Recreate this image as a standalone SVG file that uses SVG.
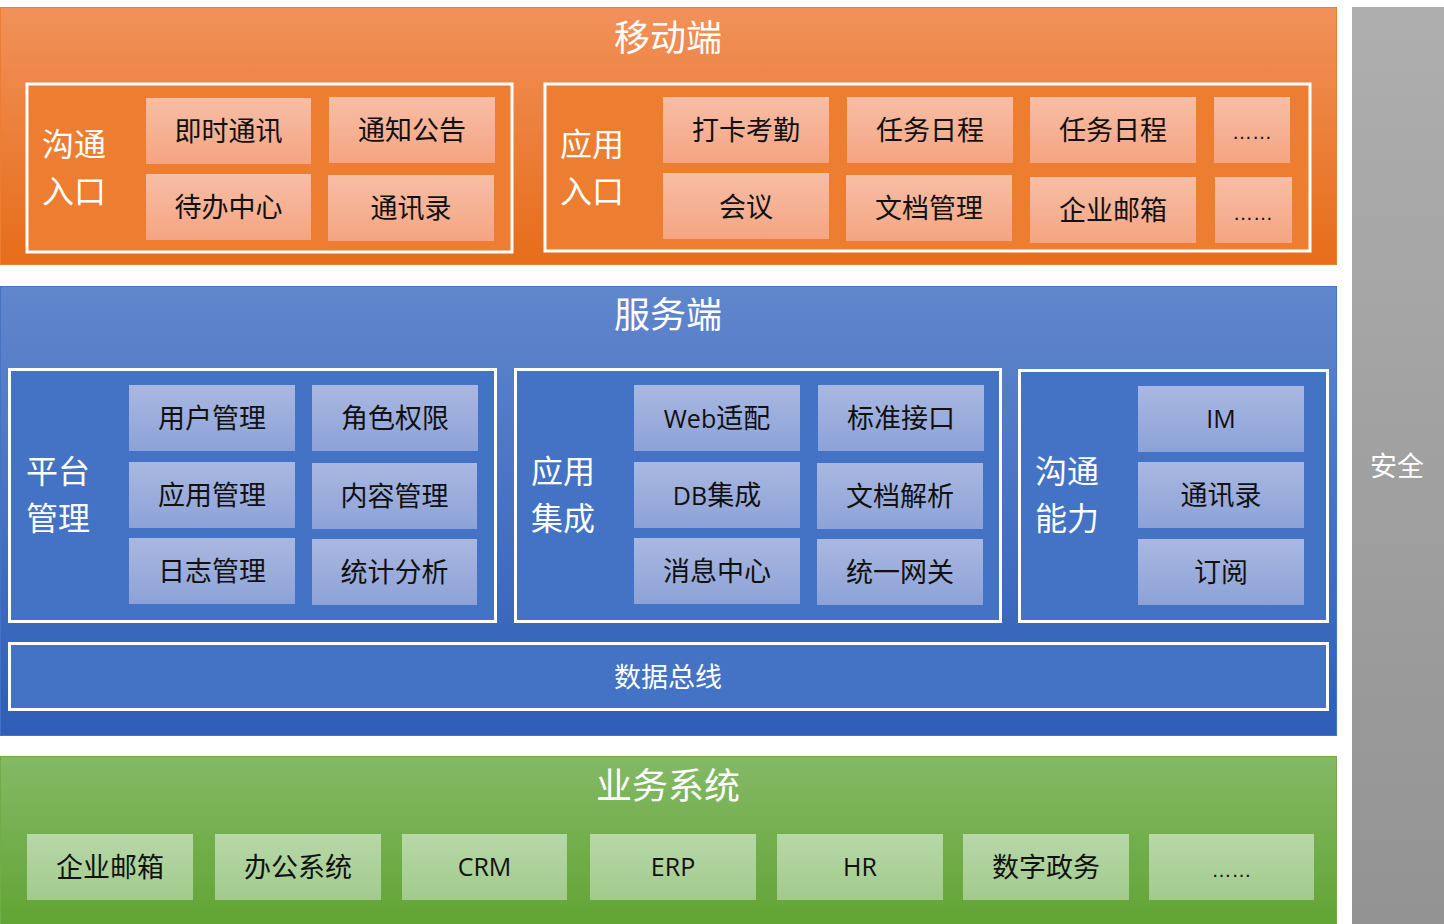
<svg xmlns="http://www.w3.org/2000/svg" width="1444" height="924" viewBox="0 0 1444 924">
<defs>
<linearGradient id="gOr" x1="0" y1="0" x2="0" y2="1"><stop offset="0" stop-color="#f1915a"/><stop offset="1" stop-color="#e66d1a"/></linearGradient>
<linearGradient id="gBl" x1="0" y1="0" x2="0" y2="1"><stop offset="0" stop-color="#6086cc"/><stop offset="1" stop-color="#2e5eb6"/></linearGradient>
<linearGradient id="gGr" x1="0" y1="0" x2="0" y2="1"><stop offset="0" stop-color="#84b966"/><stop offset="1" stop-color="#62a434"/></linearGradient>
<linearGradient id="gGy" x1="0" y1="0" x2="0" y2="1"><stop offset="0" stop-color="#aeaeae"/><stop offset="1" stop-color="#939393"/></linearGradient>
<linearGradient id="cOr" x1="0" y1="0" x2="0" y2="1"><stop offset="0" stop-color="#f7bea6"/><stop offset="1" stop-color="#f5a482"/></linearGradient>
<linearGradient id="cBl" x1="0" y1="0" x2="0" y2="1"><stop offset="0" stop-color="#aab8e1"/><stop offset="1" stop-color="#8ca2d7"/></linearGradient>
<linearGradient id="cGr" x1="0" y1="0" x2="0" y2="1"><stop offset="0" stop-color="#b7d8a9"/><stop offset="1" stop-color="#a2ca8c"/></linearGradient>
</defs>
<style>
text{font-family:"Noto Sans CJK SC","Liberation Sans",sans-serif;}
.title{fill:#fff;font-size:36px;text-anchor:middle;}
.side{fill:#fff;font-size:32px;}
.cell{fill:#111;font-size:27px;text-anchor:middle;}
.lat{font-family:"Open Sans","Liberation Sans","Noto Sans CJK SC",sans-serif;font-size:25px;}
.dots{font-family:"Liberation Sans",sans-serif;font-size:20px;}
.box{stroke:#fff;stroke-width:3;}
.co{fill:url(#cOr);}
.cb{fill:url(#cBl);}
.cg{fill:url(#cGr);}
</style>
<rect width="1444" height="924" fill="#fff"/>

<g id="mobile">
<rect x="0.5" y="7.5" width="1336" height="257" fill="url(#gOr)" stroke="#ed7d31" stroke-width="1"/>
<text class="title" x="668" y="51">移动端</text>
</g>
<g id="comm-entry">
<rect class="box" x="27" y="84" width="485" height="168" fill="#ed7d31"/>
<text class="side" x="42" y="156"><tspan x="42" y="156">沟通</tspan><tspan x="42" y="203">入口</tspan></text>
</g>
<g id="m-im"><rect class="co" x="146" y="98" width="165" height="66"/><text class="cell" x="228.5" y="141">即时通讯</text></g>
<g id="m-notice"><rect class="co" x="329" y="97" width="166" height="66"/><text class="cell" x="412" y="140">通知公告</text></g>
<g id="m-todo"><rect class="co" x="146" y="174" width="165" height="66"/><text class="cell" x="228.5" y="217">待办中心</text></g>
<g id="m-contacts"><rect class="co" x="328" y="175" width="166" height="66"/><text class="cell" x="411" y="218">通讯录</text></g>

<g id="app-entry">
<rect class="box" x="545" y="84" width="765" height="167" fill="#ed7d31"/>
<text class="side" x="560" y="156"><tspan x="560" y="156">应用</tspan><tspan x="560" y="203">入口</tspan></text>
</g>
<g id="m-attend"><rect class="co" x="663" y="97" width="166" height="66"/><text class="cell" x="746" y="140">打卡考勤</text></g>
<g id="m-task1"><rect class="co" x="847" y="97" width="166" height="66"/><text class="cell" x="930" y="140">任务日程</text></g>
<g id="m-task2"><rect class="co" x="1030" y="97" width="166" height="66"/><text class="cell" x="1113" y="140">任务日程</text></g>
<g id="m-more1"><rect class="co" x="1214" y="97" width="76" height="66"/><text class="cell dots" x="1252" y="139">……</text></g>
<g id="m-meeting"><rect class="co" x="663" y="173" width="166" height="66"/><text class="cell" x="746" y="217">会议</text></g>
<g id="m-doc"><rect class="co" x="846" y="175" width="166" height="66"/><text class="cell" x="929" y="218">文档管理</text></g>
<g id="m-mail"><rect class="co" x="1030" y="177" width="166" height="66"/><text class="cell" x="1113" y="220">企业邮箱</text></g>
<g id="m-more2"><rect class="co" x="1215" y="177" width="77" height="66"/><text class="cell dots" x="1253" y="220">……</text></g>

<g id="server">
<rect x="0.5" y="286.5" width="1336" height="449" fill="url(#gBl)" stroke="#4472c4" stroke-width="1"/>
<text class="title" x="668" y="328">服务端</text>
</g>
<g id="platform">
<rect class="box" x="9.5" y="369.5" width="486" height="252" fill="#4472c4"/>
<text class="side" x="26" y="483"><tspan x="26" y="483">平台</tspan><tspan x="26" y="530">管理</tspan></text>
</g>
<g id="s-user"><rect class="cb" x="129" y="385" width="166" height="66"/><text class="cell" x="212" y="428">用户管理</text></g>
<g id="s-role"><rect class="cb" x="312" y="385" width="166" height="66"/><text class="cell" x="395" y="428">角色权限</text></g>
<g id="s-app"><rect class="cb" x="129" y="462" width="166" height="66"/><text class="cell" x="212" y="505">应用管理</text></g>
<g id="s-content"><rect class="cb" x="312" y="463" width="165" height="66"/><text class="cell" x="394.5" y="506">内容管理</text></g>
<g id="s-log"><rect class="cb" x="129" y="538" width="166" height="66"/><text class="cell" x="212" y="581">日志管理</text></g>
<g id="s-stat"><rect class="cb" x="312" y="539" width="165" height="66"/><text class="cell" x="394.5" y="582">统计分析</text></g>

<g id="integration">
<rect class="box" x="515.5" y="369.5" width="485" height="252" fill="#4472c4"/>
<text class="side" x="531" y="483"><tspan x="531" y="483">应用</tspan><tspan x="531" y="530">集成</tspan></text>
</g>
<g id="s-web"><rect class="cb" x="634" y="385" width="166" height="66"/><text class="cell" x="717" y="428"><tspan class="lat">Web</tspan>适配</text></g>
<g id="s-api"><rect class="cb" x="818" y="385" width="166" height="66"/><text class="cell" x="901" y="428">标准接口</text></g>
<g id="s-db"><rect class="cb" x="634" y="462" width="166" height="66"/><text class="cell" x="717" y="505"><tspan class="lat">DB</tspan>集成</text></g>
<g id="s-docparse"><rect class="cb" x="817" y="463" width="166" height="66"/><text class="cell" x="900" y="506">文档解析</text></g>
<g id="s-msg"><rect class="cb" x="634" y="538" width="166" height="66"/><text class="cell" x="717" y="581">消息中心</text></g>
<g id="s-gateway"><rect class="cb" x="817" y="539" width="166" height="66"/><text class="cell" x="900" y="582">统一网关</text></g>

<g id="commability">
<rect class="box" x="1019.5" y="370.5" width="308" height="251" fill="#4472c4"/>
<text class="side" x="1035" y="483"><tspan x="1035" y="483">沟通</tspan><tspan x="1035" y="530">能力</tspan></text>
</g>
<g id="s-imcap"><rect class="cb" x="1138" y="386" width="166" height="66"/><text class="cell lat" x="1221" y="428">IM</text></g>
<g id="s-contacts"><rect class="cb" x="1138" y="462" width="166" height="66"/><text class="cell" x="1221" y="505">通讯录</text></g>
<g id="s-sub"><rect class="cb" x="1138" y="539" width="166" height="66"/><text class="cell" x="1221" y="582">订阅</text></g>

<g id="databus">
<rect class="box" x="9.5" y="643.5" width="1318" height="66" fill="#4472c4"/>
<text x="668" y="687" fill="#fff" font-size="27" text-anchor="middle">数据总线</text>
</g>

<g id="business">
<rect x="0.5" y="756.5" width="1336" height="168" fill="url(#gGr)" stroke="#70ad47" stroke-width="1"/>
<text class="title" x="668" y="799">业务系统</text>
</g>
<g id="b-mail"><rect class="cg" x="27" y="834" width="166" height="66"/><text class="cell" x="110" y="877">企业邮箱</text></g>
<g id="b-oa"><rect class="cg" x="215" y="834" width="166" height="66"/><text class="cell" x="298" y="877">办公系统</text></g>
<g id="b-crm"><rect class="cg" x="402" y="834" width="165" height="66"/><text class="cell lat" x="484.5" y="876">CRM</text></g>
<g id="b-erp"><rect class="cg" x="590" y="834" width="166" height="66"/><text class="cell lat" x="673" y="876">ERP</text></g>
<g id="b-hr"><rect class="cg" x="777" y="834" width="166" height="66"/><text class="cell lat" x="860" y="876">HR</text></g>
<g id="b-gov"><rect class="cg" x="963" y="834" width="166" height="66"/><text class="cell" x="1046" y="877">数字政务</text></g>
<g id="b-more"><rect class="cg" x="1149" y="834" width="165" height="66"/><text class="cell dots" x="1231.5" y="877">……</text></g>

<g id="security">
<rect x="1352" y="7" width="92" height="917" fill="url(#gGy)"/>
<text x="1397" y="476" fill="#fff" font-size="27" text-anchor="middle">安全</text>
</g>
<g id="connectors"></g>
</svg>
